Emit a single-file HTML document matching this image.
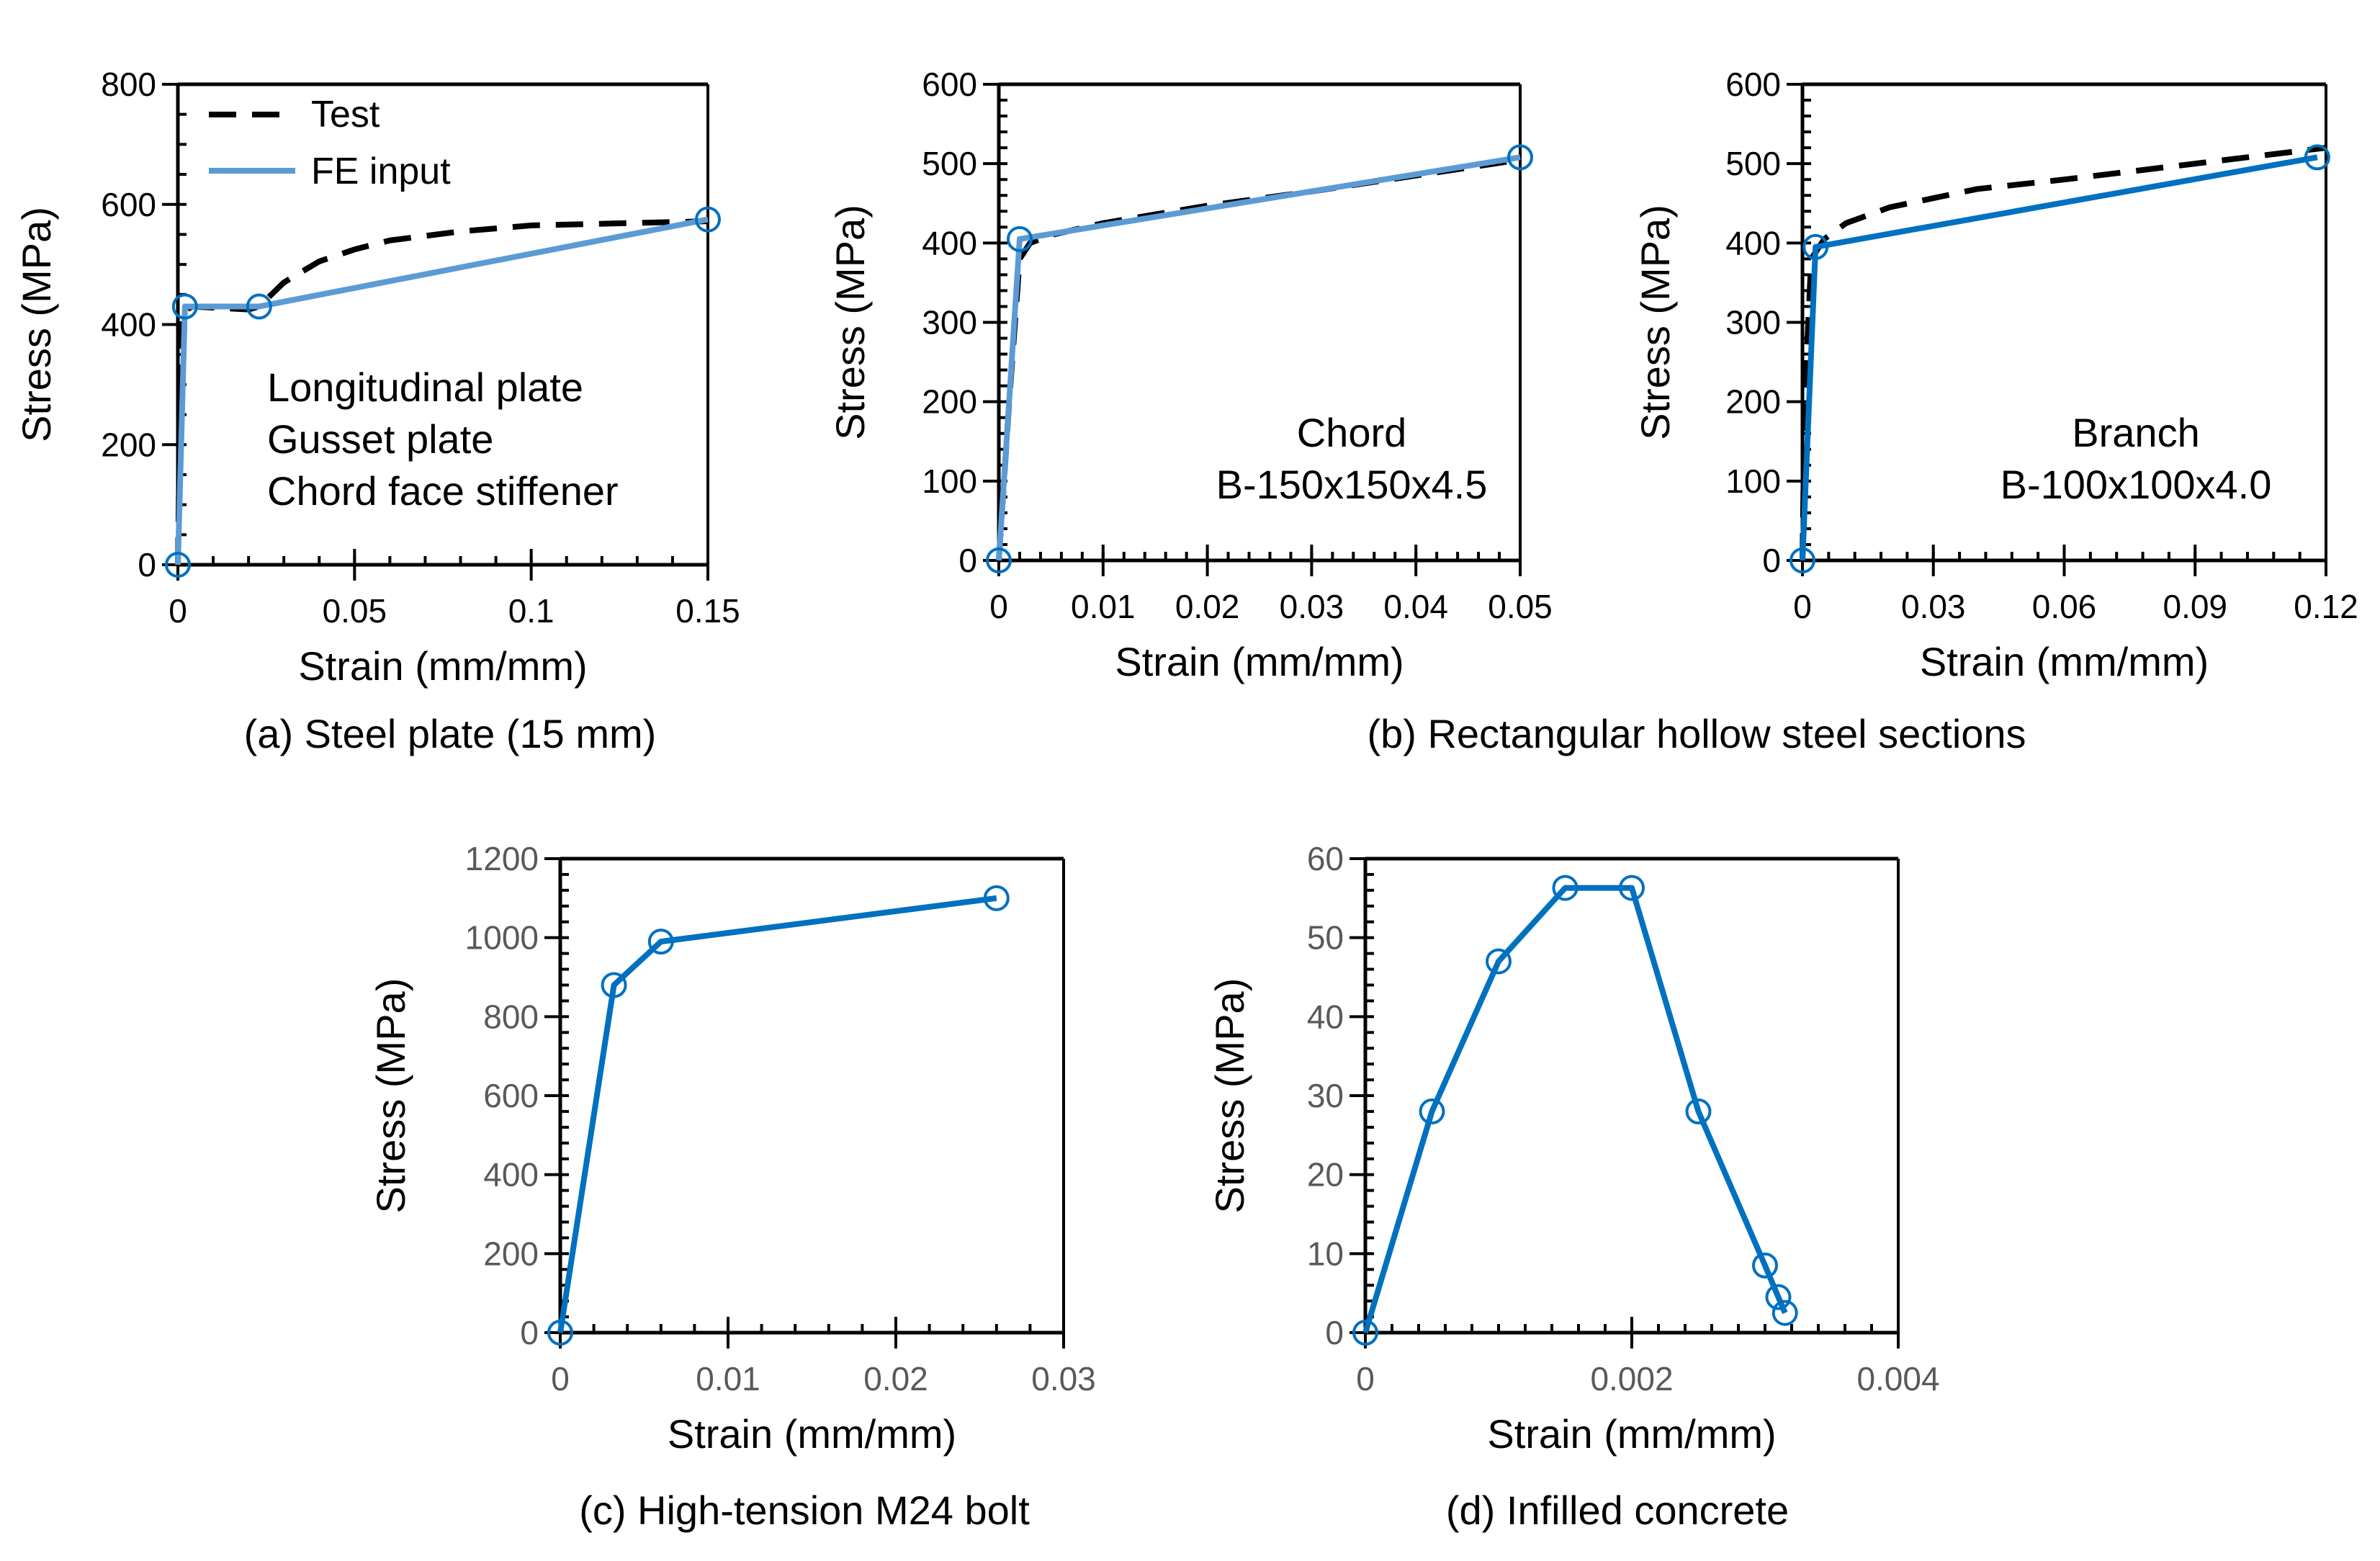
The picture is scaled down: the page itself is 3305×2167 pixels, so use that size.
<!DOCTYPE html>
<html><head><meta charset="utf-8"><style>
body{margin:0;background:#fff}
svg{display:block;font-family:"Liberation Sans","Noto Sans CJK KR",sans-serif}
</style></head><body>
<svg id="fig" width="3305" height="2167" viewBox="0 0 3305 2167"></svg>
<script>
// ---- data ----
const aXTicks=[0,0.05,0.1,0.15], aYTicks=[0,200,400,600,800];
const aTestX=[0,0.001,0.004,0.02,0.023,0.03,0.04,0.05,0.06,0.08,0.1,0.15];
const aTestY=[0,420,430,425,430,470,505,525,540,555,565,572];
const aFeX=[0,0.002,0.023,0.15], aFeY=[0,430,430,575];
const bXTicks=[0,0.01,0.02,0.03,0.04,0.05], bYTicks=[0,100,200,300,400,500,600];
const bTestX=[0,0.001,0.002,0.003,0.005,0.01,0.02,0.03,0.04,0.05];
const bTestY=[0,200,380,400,410,425,447,465,485,505];
const bFeX=[0,0.002,0.05], bFeY=[0,405,508];
const brXTicks=[0,0.03,0.06,0.09,0.12], brYTicks=[0,100,200,300,400,500,600];
const brTestX=[0,0.0005,0.002,0.005,0.01,0.02,0.04,0.06,0.09,0.12];
const brTestY=[0,200,380,405,425,445,468,480,500,520];
const brFeX=[0,0.003,0.118], brFeY=[0,395,508];
const cXTicks=[0,0.01,0.02,0.03], cYTicks=[0,200,400,600,800,1000,1200];
const cX=[0,0.0032,0.006,0.026], cY=[0,880,990,1100];
const dXTicks=[0,0.002,0.004], dYTicks=[0,10,20,30,40,50,60];
const dX=[0,0.0005,0.001,0.0015,0.002,0.0025,0.003,0.0031,0.00315];
const dY=[0,28,47,56.3,56.3,28,8.5,4.5,2.5];

const NS="http://www.w3.org/2000/svg", svg=document.getElementById('fig');
function el(tag,attrs,parent,txt){const e=document.createElementNS(NS,tag);for(const k in attrs)e.setAttribute(k,attrs[k]);if(txt!==undefined)e.textContent=txt;(parent||svg).appendChild(e);return e;}

function panel(name,L,R,T,B,xT,yT,xMinor,yMinor,tickCol,yTitleX){
  const g=el('g',{});
  
  
  const x0=xT[0],x1=xT[xT.length-1],y0=yT[0],y1=yT[yT.length-1];
  const sx=v=>L+(v-x0)/(x1-x0)*(R-L), sy=v=>B-(v-y0)/(y1-y0)*(B-T);
  el('line',{x1:L,y1:T,x2:R,y2:T,stroke:'#000','stroke-width':5},g);
  el('line',{x1:R,y1:T,x2:R,y2:B,stroke:'#000','stroke-width':4},g);
  const xa=el('line',{x1:L,y1:B,x2:R,y2:B,stroke:'#000','stroke-width':5},g);
  
  
  const ya=el('line',{x1:L,y1:T,x2:L,y2:B,stroke:'#000','stroke-width':5},g);
  
  
  for(let v=x0;v<=x1+1e-12;v+=xMinor){el('line',{x1:sx(v),y1:B,x2:sx(v),y2:B-12,stroke:'#000','stroke-width':4},g);}
  for(let v=y0;v<=y1+1e-9;v+=yMinor){el('line',{x1:L,y1:sy(v),x2:L+12,y2:sy(v),stroke:'#000','stroke-width':4},g);}
  xT.forEach(v=>{el('line',{x1:sx(v),y1:B-22,x2:sx(v),y2:B+22,stroke:'#000','stroke-width':4},g);
    const t=el('text',{x:sx(v),y:B+80,'font-size':46,'text-anchor':'middle',fill:tickCol},g,String(v));
    
    });
  yT.forEach(v=>{el('line',{x1:L-22,y1:sy(v),x2:L,y2:sy(v),stroke:'#000','stroke-width':4},g);
    const t=el('text',{x:L-30,y:sy(v)+16,'font-size':46,'text-anchor':'end',fill:tickCol},g,String(v));
    
    });
  const xt=el('text',{x:(L+R)/2,y:B+160,'font-size':56,'text-anchor':'middle'},g,'Strain (mm/mm)');
  
  
  const yt=el('text',{x:yTitleX,y:(T+B)/2,'font-size':56,'text-anchor':'middle',transform:`rotate(-90 ${yTitleX} ${(T+B)/2})`},g,'Stress (MPa)');
  
  
  return {g,sx,sy};
}
function series(p,X,Y,color,dash,w,markers,name){
  const pts=X.map((v,i)=>p.sx(v)+','+p.sy(Y[i])).join(' ');
  const l=el('polyline',{points:pts,fill:'none',stroke:color,'stroke-width':w,'stroke-dasharray':dash||'none','stroke-linejoin':'round'},p.g);
  
  
  if(markers){markers.forEach(i=>{const c=el('circle',{cx:p.sx(X[i]),cy:p.sy(Y[i]),r:16,fill:'none',stroke:'#0070C0','stroke-width':4},p.g);
    
    });}
}
function txt(x,y,s,size,anchor,name,col){const t=el('text',{x:x,y:y,'font-size':size,'text-anchor':anchor||'start',fill:col||'#000'},svg,s);
  
  return t;}

// (a)
const pa=panel('chart-steel-plate',247,983,117,784,aXTicks,aYTicks,0.01,50,'#000',70);
series(pa,aTestX,aTestY,'#000','38 22',8,null,'test-line');
series(pa,aFeX,aFeY,'#5B9BD5',null,8,[0,1,2,3],'fe-input-line');
const lg1=el('line',{x1:290,y1:159,x2:410,y2:159,stroke:'#000','stroke-width':8,'stroke-dasharray':'38 22'});


txt(432,176,'Test',52,'start','legend-test-label');
const lg2=el('line',{x1:290,y1:237,x2:410,y2:237,stroke:'#5B9BD5','stroke-width':8});


txt(432,255,'FE input',52,'start','legend-fe-label');
txt(371,557,'Longitudinal plate',56,'start','annotation-longitudinal');
txt(371,629,'Gusset plate',56,'start','annotation-gusset');
txt(371,701,'Chord face stiffener',56,'start','annotation-stiffener');
txt(625,1038,'(a) Steel plate (15 mm)',56,'middle','caption-a');

// (b) chord
const pb=panel('chart-chord',1387,2111,117,778,bXTicks,bYTicks,0.002,20,'#000',1200);
series(pb,bTestX,bTestY,'#000','38 22',8,null,'test-line');
series(pb,bFeX,bFeY,'#5B9BD5',null,8,[0,1,2],'fe-input-line');
txt(1877,620,'Chord',56,'middle','annotation-chord');
txt(1877,692,'B-150x150x4.5',56,'middle','annotation-chord-size');
// (b) branch
const pbr=panel('chart-branch',2503,3230,117,778,brXTicks,brYTicks,0.006,20,'#000',2318);
series(pbr,brTestX,brTestY,'#000','38 22',8,null,'test-line');
series(pbr,brFeX,brFeY,'#0070C0',null,8,[0,1,2],'fe-input-line');
txt(2966,620,'Branch',56,'middle','annotation-branch');
txt(2966,692,'B-100x100x4.0',56,'middle','annotation-branch-size');
txt(2356,1038,'(b) Rectangular hollow steel sections',56,'middle','caption-b');

// (c)
const pc=panel('chart-bolt',778,1477,1192,1850,cXTicks,cYTicks,0.002,40,'#595959',562);
series(pc,cX,cY,'#0070C0',null,8,[0,1,2,3],'bolt-line');
txt(1117,2116,'(c) High-tension M24 bolt',56,'middle','caption-c');
// (d)
const pd=panel('chart-concrete',1896,2636,1192,1850,dXTicks,dYTicks,0.0002,2,'#595959',1727);
series(pd,dX,dY,'#0070C0',null,8,[0,1,2,3,4,5,6,7,8],'concrete-line');
txt(2246,2116,'(d) Infilled concrete',56,'middle','caption-d');
</script>
</body></html>
